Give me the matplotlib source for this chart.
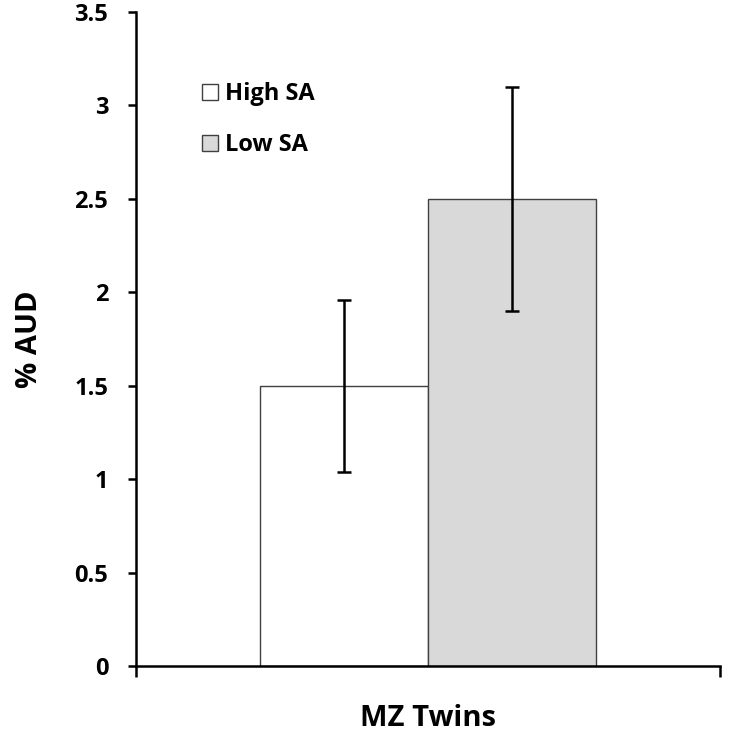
import matplotlib
matplotlib.use("Agg")
import matplotlib.pyplot as plt

# values
groups = ["High SA", "Low SA"]
pct_aud = [1.5, 2.5]
err_low = [1.04, 1.90]
err_high = [1.96, 3.10]
colors = ["white", "#d9d9d9"]
category = "MZ Twins"

plt.rcParams['font.family'] = ['Open Sans', 'DejaVu Sans']

fig = plt.figure(figsize=(7.32, 7.43), dpi=100)
ax = fig.add_axes([136 / 732, 1 - 666 / 743, 584 / 732, 654 / 743])

width = 0.287
offsets = [0.5 - width / 2, 0.5 + width / 2]
for i, g in enumerate(groups):
    yerr = [[pct_aud[i] - err_low[i]], [err_high[i] - pct_aud[i]]]
    ax.bar(offsets[i], pct_aud[i], width=width, color=colors[i],
           edgecolor="#404040", linewidth=1.0, label=g, zorder=2)
    ax.errorbar(offsets[i], pct_aud[i], yerr=yerr, fmt="none",
                ecolor="black", elinewidth=1.8, capsize=5, capthick=1.8, zorder=3)

ax.set_xlim(0, 1)
ax.set_ylim(0, 3.5)
ax.set_yticks([0, 0.5, 1, 1.5, 2, 2.5, 3, 3.5])
ax.set_yticklabels(["0", "0.5", "1", "1.5", "2", "2.5", "3", "3.5"])
ax.set_xticks([0, 1])
ax.set_xticklabels(["", ""])

for s in ["top", "right"]:
    ax.spines[s].set_visible(False)
for s in ["left", "bottom"]:
    ax.spines[s].set_linewidth(1.8)

ax.tick_params(axis="y", direction="out", length=6, width=1.8, labelsize=17, pad=14)
ax.tick_params(axis="x", direction="out", length=8, width=1.8)
for lbl in ax.get_yticklabels():
    lbl.set_fontweight("bold")

ax.set_ylabel("% AUD", fontsize=21, fontweight="bold", labelpad=22)
ax.set_xlabel(category, fontsize=21, fontweight="bold", labelpad=16)

ax.legend(loc="upper left", bbox_to_anchor=(0.077, 0.925), frameon=False,
          handlelength=0.65, handleheight=0.65, handletextpad=0.3,
          labelspacing=1.15, prop={"size": 17, "weight": "bold"})

fig.savefig("out.png", dpi=100)
